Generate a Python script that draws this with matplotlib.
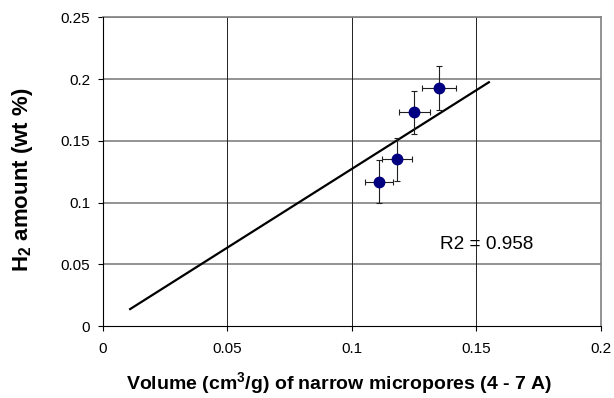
import matplotlib
matplotlib.use("Agg")
import numpy as np
from matplotlib import pyplot as plt

plt.rcParams["font.family"] = ["Liberation Sans", "DejaVu Sans"]
plt.rcParams["mathtext.fontset"] = "custom"
plt.rcParams["mathtext.rm"] = "Liberation Sans"
plt.rcParams["mathtext.bf"] = "Liberation Sans:bold"

# measured points with error bars
volume = [0.111, 0.118, 0.125, 0.135]
h2_amount = [0.117, 0.135, 0.173, 0.193]
volume_err = [0.0056, 0.006, 0.0062, 0.0067]
h2_err = [0.0175, 0.0175, 0.0173, 0.0177]

# trend line end points
fit_x = [0.011, 0.155]
fit_y = [0.0137, 0.1974]

x_ticks = [0, 0.05, 0.1, 0.15, 0.2]
x_labels = ["0", "0.05", "0.1", "0.15", "0.2"]
y_ticks = [0, 0.05, 0.1, 0.15, 0.2, 0.25]
y_labels = ["0", "0.05", "0.1", "0.15", "0.2", "0.25"]

fig = plt.figure(figsize=(6.14, 3.98), dpi=100)
ax = fig.add_axes([0.1673, 0.1809, 0.9788 - 0.1673, 0.9565 - 0.1809])

ax.set_xlim(0, 0.2)
ax.set_ylim(0, 0.25)
ax.set_xticks(x_ticks)
ax.set_xticklabels(x_labels)
ax.set_yticks(y_ticks)
ax.set_yticklabels(y_labels)

for y in y_ticks[1:]:
    ax.axhline(y, color="#808080", lw=1.2, zorder=1)
for x in x_ticks[1:]:
    ax.axvline(x, color="#202020", lw=0.7, zorder=1)

ax.plot(fit_x, fit_y, color="black", lw=1.6, zorder=3)
ax.errorbar(volume, h2_amount, xerr=volume_err, yerr=h2_err, fmt="o",
            color="#000080", ms=7.5, ecolor="#202020", elinewidth=0.8,
            capsize=2, capthick=0.8, zorder=4)

ax.text(0.1354, 0.0663, "R2 = 0.958", fontsize=13.7, va="center", ha="left")

for s in ["top", "right"]:
    ax.spines[s].set_color("#808080")
    ax.spines[s].set_linewidth(1.2)
for s in ["left", "bottom"]:
    ax.spines[s].set_color("black")
    ax.spines[s].set_linewidth(0.8)
    ax.spines[s].set_zorder(5)

ax.tick_params(direction="out", length=3.6, width=0.8, labelsize=11)
ax.tick_params(axis="x", pad=8)
ax.tick_params(axis="y", pad=5.5)

ax.set_xlabel(r"Volume (cm$^{\mathbf{3}}$/g) of narrow micropores (4 - 7 A)",
              fontsize=14, fontweight="bold", va="center")
ax.xaxis.set_label_coords(0.474, -0.187)
ax.set_ylabel(r"H$_{\mathbf{2}}$ amount (wt %)", fontsize=16,
              fontweight="bold", va="center")
ax.yaxis.set_label_coords(-0.162, 0.473)

fig.savefig("out.png", dpi=100)
